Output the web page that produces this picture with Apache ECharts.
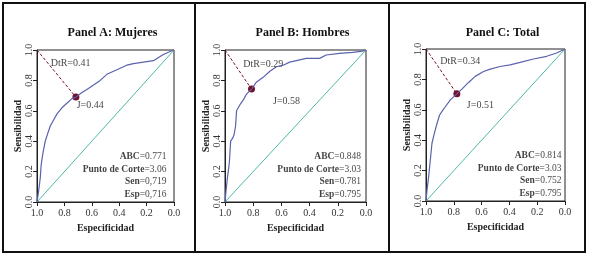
<!DOCTYPE html>
<html>
<head>
<meta charset="utf-8">
<script src="https://cdn.jsdelivr.net/npm/echarts@6/dist/echarts.min.js"></script>
<style>
  html, body { margin: 0; padding: 0; background: #fff; }
  #chart { width: 589px; height: 256px; }
</style>
</head>
<body>
<div id="chart"></div>
<script>
  // ROC curves, pairs of [especificidad, sensibilidad]
  const rocMujeres = [
    [1.0, 0], [0.995, 0.03], [0.99, 0.06], [0.985, 0.07], [0.98, 0.13], [0.976, 0.16],
    [0.97, 0.24], [0.964, 0.28], [0.955, 0.33], [0.94, 0.4], [0.922, 0.45], [0.903, 0.5],
    [0.879, 0.54], [0.854, 0.58], [0.818, 0.62], [0.782, 0.65], [0.745, 0.68], [0.716, 0.69],
    [0.672, 0.72], [0.636, 0.74], [0.587, 0.77], [0.539, 0.8], [0.49, 0.84], [0.417, 0.87],
    [0.345, 0.9], [0.296, 0.91], [0.223, 0.92], [0.15, 0.93], [0.078, 0.97], [0.029, 0.99], [0, 1]
  ]
  const rocHombres = [
    [1.0, 0], [0.993, 0.07], [0.984, 0.15], [0.969, 0.26], [0.96, 0.4], [0.946, 0.42],
    [0.936, 0.44], [0.925, 0.5], [0.918, 0.6], [0.894, 0.64], [0.871, 0.67], [0.847, 0.71],
    [0.812, 0.743], [0.776, 0.79], [0.729, 0.82], [0.682, 0.86], [0.635, 0.89], [0.588, 0.9],
    [0.541, 0.92], [0.529, 0.93], [0.424, 0.945], [0.329, 0.945], [0.282, 0.967],
    [0.188, 0.978], [0.094, 0.985], [0.024, 0.993], [0, 1]
  ]
  const rocTotal = [
    [1.0, 0], [0.993, 0.07], [0.981, 0.16], [0.969, 0.27], [0.957, 0.38], [0.94, 0.445],
    [0.921, 0.51], [0.902, 0.566], [0.885, 0.59], [0.861, 0.62], [0.825, 0.665], [0.778, 0.705],
    [0.742, 0.736], [0.694, 0.78], [0.646, 0.82], [0.586, 0.852], [0.538, 0.868], [0.467, 0.885],
    [0.395, 0.896], [0.323, 0.912], [0.227, 0.934], [0.132, 0.952], [0.06, 0.974], [0, 1]
  ]
  const rocCurves = [rocMujeres, rocHombres, rocTotal]
  const chanceLine = [[1, 0], [0, 1]]
  const cutPoints = [[0.716, 0.69], [0.812, 0.743], [0.778, 0.705]]
  const panelTitles = ['Panel A: Mujeres', 'Panel B: Hombres', 'Panel C: Total']
  const dtrLabels = ['DtR=0.41', 'DtR=0.29', 'DtR=0.34']
  const jLabels = ['J=0.44', 'J=0.58', 'J=0.51']
  const statNames = ['ABC', 'Punto de Corte', 'Sen', 'Esp']
  const statValues = [
    ['0.771', '3.06', '0,719', '0,716'],
    ['0.848', '3.03', '0.781', '0.795'],
    ['0.814', '3.03', '0.752', '0.795']
  ]

  // layout (pixels) and where the annotations sit inside each plot
  const grids = [
    { left: 37, top: 50, width: 137, height: 152 },
    { left: 225, top: 50, width: 141, height: 152 },
    { left: 426, top: 49, width: 139, height: 152 }
  ]
  const dtrPos = [[0.9, 0.91], [0.87, 0.905], [0.897, 0.918]]
  const jPos = [[0.71, 0.635], [0.66, 0.66], [0.706, 0.632]]
  const statX = [0.055, 0.035, 0.025]
  const statY = [0.3, 0.215, 0.133, 0.05]

  const serif = 'Liberation Serif'
  const curveColor = '#5a62ad'
  const diagColor = '#4bb9a6'
  const cutColor = '#74102a'

  const chart = echarts.init(document.getElementById('chart'))

  const xAxes = grids.map((g, i) => ({
    gridIndex: i,
    type: 'value',
    inverse: true,
    min: 0,
    max: 1,
    interval: 0.2,
    name: 'Especificidad',
    nameLocation: 'middle',
    nameGap: 21,
    nameTextStyle: { fontFamily: serif, fontWeight: 'bold', fontSize: 10, color: '#222' },
    axisLine: { show: true, onZero: false, lineStyle: { color: '#222', width: 1 } },
    axisTick: { show: true, length: 4, lineStyle: { color: '#222' } },
    axisLabel: {
      margin: 6,
      fontFamily: serif,
      fontSize: 10,
      color: '#333',
      formatter: v => v.toFixed(1)
    },
    splitLine: { show: false }
  }))

  const yAxes = grids.map((g, i) => ({
    gridIndex: i,
    type: 'value',
    min: 0,
    max: 1,
    interval: 0.2,
    name: 'Sensibilidad',
    nameLocation: 'middle',
    nameGap: 14,
    nameRotate: 90,
    nameTextStyle: { fontFamily: serif, fontWeight: 'bold', fontSize: 10, color: '#222' },
    axisLine: { show: true, onZero: false, lineStyle: { color: '#222', width: 1 } },
    axisTick: { show: true, length: 4, lineStyle: { color: '#222' } },
    axisLabel: {
      margin: 3,
      rotate: 90,
      fontFamily: serif,
      fontSize: 10,
      color: '#333',
      formatter: v => v.toFixed(1)
    },
    splitLine: { show: false }
  }))

  const series = []
  grids.forEach((g, i) => {
    const ax = { xAxisIndex: i, yAxisIndex: i }
    series.push({
      ...ax,
      type: 'line',
      data: chanceLine,
      showSymbol: false,
      silent: true,
      lineStyle: { color: diagColor, width: 1 }
    })
    series.push({
      ...ax,
      type: 'line',
      data: rocCurves[i],
      showSymbol: false,
      silent: true,
      lineStyle: { color: curveColor, width: 1.2 }
    })
    series.push({
      ...ax,
      type: 'line',
      data: [[1, 1], cutPoints[i]],
      showSymbol: false,
      silent: true,
      lineStyle: { color: cutColor, width: 1, type: [3, 2] }
    })
    series.push({
      ...ax,
      type: 'scatter',
      data: [cutPoints[i]],
      symbolSize: 7,
      silent: true,
      itemStyle: { color: cutColor, opacity: 1 }
    })
    // text annotations
    const txt = { fontFamily: serif, fontSize: 10, color: '#111' }
    series.push({
      ...ax,
      type: 'scatter',
      symbolSize: 0,
      silent: true,
      data: [
        { value: dtrPos[i], label: { formatter: dtrLabels[i] } },
        { value: jPos[i], label: { formatter: jLabels[i] } }
      ],
      label: { show: true, position: 'right', distance: 0, ...txt }
    })
    series.push({
      ...ax,
      type: 'scatter',
      symbolSize: 0,
      silent: true,
      data: statNames.map((n, k) => ({
        value: [statX[i], statY[k]],
        label: { formatter: '{b|' + n + '}{n|=' + statValues[i][k] + '}' }
      })),
      label: {
        show: true,
        position: 'left',
        distance: 0,
        rich: {
          b: { ...txt, fontSize: 9.5, fontWeight: 'bold' },
          n: { ...txt, fontSize: 9.5 }
        }
      }
    })
  })

  const option = {
    animation: false,
    backgroundColor: '#fff',
    title: grids.map((g, i) => ({
      text: panelTitles[i],
      left: g.left + g.width / 2 + 2,
      top: 22,
      textAlign: 'center',
      textStyle: { fontFamily: serif, fontWeight: 'bold', fontSize: 12, color: '#111' }
    })),
    grid: grids.map(g => ({
      ...g,
      show: true,
      borderColor: '#222',
      borderWidth: 1,
      backgroundColor: 'transparent'
    })),
    xAxis: xAxes,
    yAxis: yAxes,
    series: series,
    graphic: [
      {
        type: 'rect',
        shape: { x: 3, y: 3, width: 582, height: 249 },
        style: { fill: 'none', stroke: '#111', lineWidth: 2 },
        silent: true
      },
      {
        type: 'line',
        shape: { x1: 195, y1: 3, x2: 195, y2: 252 },
        style: { stroke: '#111', lineWidth: 2 },
        silent: true
      },
      {
        type: 'line',
        shape: { x1: 389, y1: 3, x2: 389, y2: 252 },
        style: { stroke: '#111', lineWidth: 2 },
        silent: true
      }
    ]
  }

  option && chart.setOption(option)
</script>
</body>
</html>
